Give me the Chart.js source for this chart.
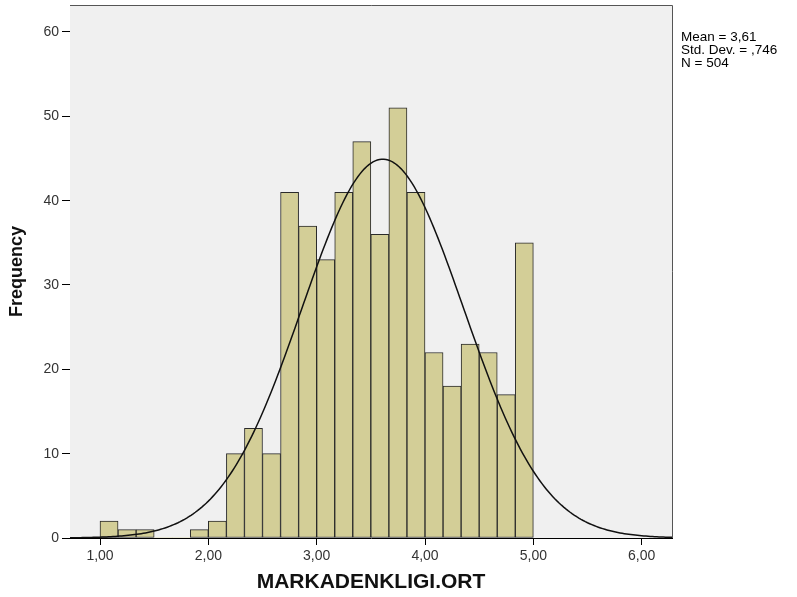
<!DOCTYPE html>
<html>
<head>
<meta charset="utf-8">
<script src="https://cdn.jsdelivr.net/npm/chart.js@4.4.1/dist/chart.umd.min.js"></script>
<style>
  html, body { margin: 0; padding: 0; background: #fff; }
  #wrap { width: 797px; height: 597px; position: relative; }
</style>
</head>
<body>
<div id="wrap"><canvas id="histChart" width="797" height="597"></canvas></div>
<script>
'use strict';

/* ---- Data ---- */
const BIN_START = 1.0;
const BIN_WIDTH = 1 / 6;
const frequencies = [2, 1, 1, 0, 0, 1, 2, 10, 13, 10, 41, 37, 33, 41, 47, 36, 51, 41, 22, 18, 23, 22, 17, 35];
const xTicks = [1, 2, 3, 4, 5, 6];
const xTickLabels = ['1,00', '2,00', '3,00', '4,00', '5,00', '6,00'];
const yTicks = [0, 10, 20, 30, 40, 50, 60];
const statLines = ['Mean = 3,61', 'Std. Dev. = ,746', 'N = 504'];
const MEAN = 3.61;
const SD = 0.746;
const N = 504;

const X_MIN = 0.723;
const X_MAX = 6.28;
const Y_MAX = 63.2;

const COLORS = {
  bar:      '#d3ce97',
  barEdge:  '#2a2a2a',
  plotBg:   '#f0f0f0',
  frame:    '#555555',
  axis:     '#000000',
  tick:     '#333333',
  curve:    '#111111',
};

const FONT = "'Liberation Sans', Arial, sans-serif";

/* ---- Derived series ---- */
const barPoints = frequencies.map((f, i) => ({ x: BIN_START + (i + 0.5) * BIN_WIDTH, y: f }));

// fitted normal curve from the stated mean / std. dev. / N
const curvePoints = [];
for (let x = 0.70; x <= 6.32; x += 0.02) {
  const z = (x - MEAN) / SD;
  curvePoints.push({ x, y: N * BIN_WIDTH * Math.exp(-0.5 * z * z) / (SD * Math.sqrt(2 * Math.PI)) });
}

/* ---- Plugins ---- */
const plotFrame = {
  id: 'plotFrame',
  beforeDatasetsDraw(chart) {
    const { ctx, chartArea: a } = chart;
    ctx.save();
    ctx.fillStyle = COLORS.plotBg;
    ctx.fillRect(a.left, a.top, a.right - a.left, a.bottom - a.top);
    ctx.restore();
  },
  afterDraw(chart) {
    const { ctx, chartArea: a } = chart;
    ctx.save();
    ctx.strokeStyle = COLORS.frame;
    ctx.lineWidth = 1;
    ctx.beginPath();
    ctx.moveTo(a.left, a.top + 0.5);
    ctx.lineTo(a.right + 0.5, a.top + 0.5);
    ctx.lineTo(a.right + 0.5, a.bottom);
    ctx.stroke();

    // stats box text
    ctx.fillStyle = '#000';
    ctx.font = '13.5px ' + FONT;
    ctx.textBaseline = 'middle';
    statLines.forEach((t, i) => ctx.fillText(t, 681, 37 + i * 13));
    ctx.restore();
  }
};

/* ---- Chart ---- */
new Chart(document.getElementById('histChart'), {
  data: {
    datasets: [
      {
        type: 'line',
        data: curvePoints,
        borderColor: COLORS.curve,
        borderWidth: 1.5,
        pointRadius: 0,
        tension: 0,
        order: 0,
      },
      {
        type: 'bar',
        data: barPoints,
        backgroundColor: COLORS.bar,
        borderColor: COLORS.barEdge,
        borderWidth: ctx => (ctx.raw && ctx.raw.y ? 1 : 0),
        borderSkipped: false,
        barPercentage: 1,
        categoryPercentage: 1,
        grouped: false,
        order: 1,
      }
    ]
  },
  options: {
    responsive: false,
    animation: false,
    layout: { padding: { top: 5, right: 125, left: 0, bottom: 0 } },
    plugins: { legend: { display: false }, tooltip: { enabled: false } },
    scales: {
      x: {
        type: 'linear',
        offset: false,
        min: X_MIN,
        max: X_MAX,
        afterBuildTicks: s => { s.ticks = xTicks.map(v => ({ value: v })); },
        afterFit: s => { s.height = 59; },
        grid: { display: true, offset: false, drawOnChartArea: false, drawTicks: true, tickLength: 7, color: COLORS.axis },
        border: { display: true, color: COLORS.axis, width: 1 },
        ticks: {
          color: COLORS.tick,
          font: { family: FONT, size: 14 },
          padding: 3,
          maxRotation: 0,
          callback: v => xTickLabels[xTicks.indexOf(v)] ?? ''
        },
        title: {
          display: true,
          text: 'MARKADENKLIGI.ORT',
          color: '#111',
          font: { family: FONT, size: 21, weight: 'bold' },
          padding: { top: 0, bottom: 2 }
        }
      },
      y: {
        min: 0,
        max: Y_MAX,
        afterBuildTicks: s => { s.ticks = yTicks.map(v => ({ value: v })); },
        afterFit: s => { s.width = 70; s.paddingTop = 0; s.paddingBottom = 0; },
        grid: { display: true, drawOnChartArea: false, drawTicks: true, tickLength: 8, color: COLORS.axis },
        border: { display: true, color: COLORS.axis, width: 1 },
        ticks: {
          color: COLORS.tick,
          font: { family: FONT, size: 14 },
          padding: 3
        },
        title: {
          display: true,
          text: 'Frequency',
          color: '#111',
          font: { family: FONT, size: 18, weight: 'bold' },
          padding: { top: 6, bottom: 0 }
        }
      }
    }
  },
  plugins: [plotFrame]
});
</script>
</body>
</html>
